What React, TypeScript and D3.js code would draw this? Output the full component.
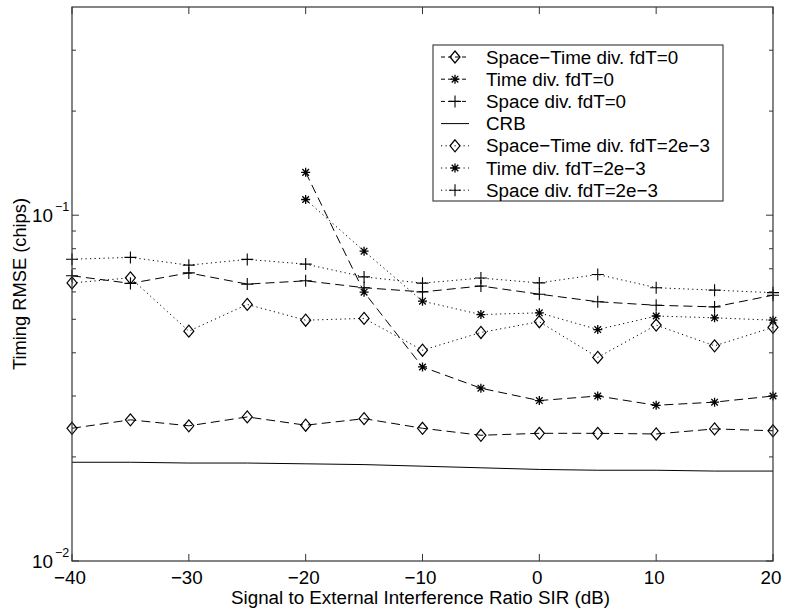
import React from "react";
import * as d3 from "d3";

// SIR grid (dB)
const sir = [-40, -35, -30, -25, -20, -15, -10, -5, 0, 5, 10, 15, 20];
const sirTime = [-20, -15, -10, -5, 0, 5, 10, 15, 20];

// timing RMSE (chips)
const spaceTime0 = [0.0242, 0.0256, 0.0246, 0.0261, 0.0247, 0.0258, 0.0242, 0.0231, 0.0234, 0.0234, 0.0233, 0.0241, 0.0238];
const time0 = [0.133, 0.0599, 0.0364, 0.0316, 0.0291, 0.03, 0.0282, 0.0288, 0.03];
const space0 = [0.0668, 0.0635, 0.0681, 0.0632, 0.0646, 0.0617, 0.06, 0.0624, 0.0591, 0.0562, 0.0549, 0.0543, 0.0587];
const crb = [0.0193, 0.0193, 0.0192, 0.0192, 0.0191, 0.019, 0.0188, 0.0186, 0.0184, 0.0183, 0.0183, 0.0182, 0.0182];
const spaceTime2 = [0.0637, 0.0659, 0.0462, 0.0552, 0.0497, 0.0503, 0.0407, 0.0458, 0.0492, 0.0388, 0.0481, 0.0419, 0.0474];
const time2 = [0.111, 0.0787, 0.0564, 0.0516, 0.0522, 0.0467, 0.0511, 0.0505, 0.0497];
const space2 = [0.0746, 0.0755, 0.0717, 0.0745, 0.0722, 0.0663, 0.0636, 0.0658, 0.0637, 0.0674, 0.0617, 0.0607, 0.0597];

const xTicks = [-40, -30, -20, -10, 0, 10, 20];
const yMajor = [0.01, 0.1];
const yMinor = [0.02, 0.03, 0.04, 0.05, 0.06, 0.07, 0.08, 0.09, 0.2, 0.3];

type Marker = "diamond" | "star" | "plus" | "none";
type Series = { name: string; xs: number[]; ys: number[]; dash: string; marker: Marker };

const DASH = "9,5";
const DOT = "1.2,3.3";

const series: Series[] = [
  { name: "Space\u2212Time div. fdT=0", xs: sir, ys: spaceTime0, dash: DASH, marker: "diamond" },
  { name: "Time div. fdT=0", xs: sirTime, ys: time0, dash: DASH, marker: "star" },
  { name: "Space div. fdT=0", xs: sir, ys: space0, dash: DASH, marker: "plus" },
  { name: "CRB", xs: sir, ys: crb, dash: "none", marker: "none" },
  { name: "Space\u2212Time div. fdT=2e\u22123", xs: sir, ys: spaceTime2, dash: DOT, marker: "diamond" },
  { name: "Time div. fdT=2e\u22123", xs: sirTime, ys: time2, dash: DOT, marker: "star" },
  { name: "Space div. fdT=2e\u22123", xs: sir, ys: space2, dash: DOT, marker: "plus" },
];

const W = 786, H = 613;
const left = 72, right = 773, top = 7, bottom = 561;
const font = "'Liberation Sans', Arial, Helvetica, sans-serif";
const FS = 18.8;

function MarkerShape({ type, x, y }: { type: Marker; x: number; y: number }) {
  if (type === "diamond") {
    return <path d={`M${x},${y - 6}L${x + 5},${y}L${x},${y + 6}L${x - 5},${y}Z`} fill="none" stroke="#000" strokeWidth={1.2} />;
  }
  if (type === "plus") {
    return <path d={`M${x - 6},${y}H${x + 6}M${x},${y - 6}V${y + 6}`} stroke="#000" strokeWidth={1.1} />;
  }
  if (type === "star") {
    const r = 4.5, d = 3.3;
    return (
      <path
        d={`M${x - r},${y}H${x + r}M${x},${y - r}V${y + r}M${x - d},${y - d}L${x + d},${y + d}M${x - d},${y + d}L${x + d},${y - d}`}
        stroke="#000"
        strokeWidth={1.3}
      />
    );
  }
  return null;
}

export default function App() {
  const x = d3.scaleLinear().domain([-40, 20]).range([left, right]);
  const y = d3.scaleLog().domain([0.01, 0.4]).range([bottom, top]);

  const line = d3
    .line<[number, number]>()
    .x((d) => x(d[0]))
    .y((d) => y(d[1]));

  const legX = 433, legY = 45, legW = 290, legH = 156;
  const rowH = 22.2;

  return (
    <svg width={W} height={H} style={{ position: "absolute", left: 0, top: 0, background: "#fff" }} fontFamily={font}>
      {/* data lines */}
      {series.map((s, i) => (
        <path
          key={"l" + i}
          d={line(s.xs.map((v, j) => [v, s.ys[j]] as [number, number])) || ""}
          fill="none"
          stroke="#000"
          strokeWidth={1}
          strokeDasharray={s.dash}
        />
      ))}
      {series.map((s, i) =>
        s.xs.map((v, j) => <MarkerShape key={`m${i}-${j}`} type={s.marker} x={x(v)} y={y(s.ys[j])} />)
      )}

      {/* axes box */}
      <rect x={left} y={top} width={right - left} height={bottom - top} fill="none" stroke="#333" strokeWidth={1.2} />
      {xTicks.map((t) => (
        <g key={"xt" + t}>
          <line x1={x(t)} x2={x(t)} y1={bottom} y2={bottom - 7} stroke="#333" />
          <line x1={x(t)} x2={x(t)} y1={top} y2={top + 7} stroke="#333" />
          <text x={x(t) - 2} y={584} fontSize={FS} textAnchor="middle">
            {t < 0 ? "\u2212" + Math.abs(t) : String(t)}
          </text>
        </g>
      ))}
      {yMajor.map((t) => (
        <g key={"ym" + t}>
          <line x1={left} x2={left + 7} y1={y(t)} y2={y(t)} stroke="#333" />
          <line x1={right} x2={right - 7} y1={y(t)} y2={y(t)} stroke="#333" />
          <text x={53} y={y(t) + 7} fontSize={FS} textAnchor="end">10</text>
          <text x={55} y={y(t) - 4} fontSize={12.5} textAnchor="start">
            {"\u2212" + Math.round(-Math.log10(t))}
          </text>
        </g>
      ))}
      {yMinor.map((t) => (
        <g key={"yn" + t}>
          <line x1={left} x2={left + 4} y1={y(t)} y2={y(t)} stroke="#333" />
          <line x1={right} x2={right - 4} y1={y(t)} y2={y(t)} stroke="#333" />
        </g>
      ))}

      {/* axis labels */}
      <text x={(left + right) / 2 - 2} y={604} fontSize={FS} textAnchor="middle">
        Signal to External Interference Ratio SIR (dB)
      </text>
      <text transform={`translate(26,${(top + bottom) / 2}) rotate(-90)`} fontSize={18.3} textAnchor="middle">
        Timing RMSE (chips)
      </text>

      {/* legend */}
      <rect x={legX} y={legY} width={legW} height={legH} fill="#fff" stroke="#444" strokeWidth={1.2} />
      {series.map((s, i) => {
        const cy = 57 + i * rowH;
        return (
          <g key={"lg" + i}>
            <line x1={441} x2={469} y1={cy} y2={cy} stroke="#000" strokeDasharray={s.dash === DASH ? "4,3" : s.dash} />
            <MarkerShape type={s.marker} x={455} y={cy} />
            <text x={486} y={cy + 6.5} fontSize={FS}>
              {s.name}
            </text>
          </g>
        );
      })}
    </svg>
  );
}
